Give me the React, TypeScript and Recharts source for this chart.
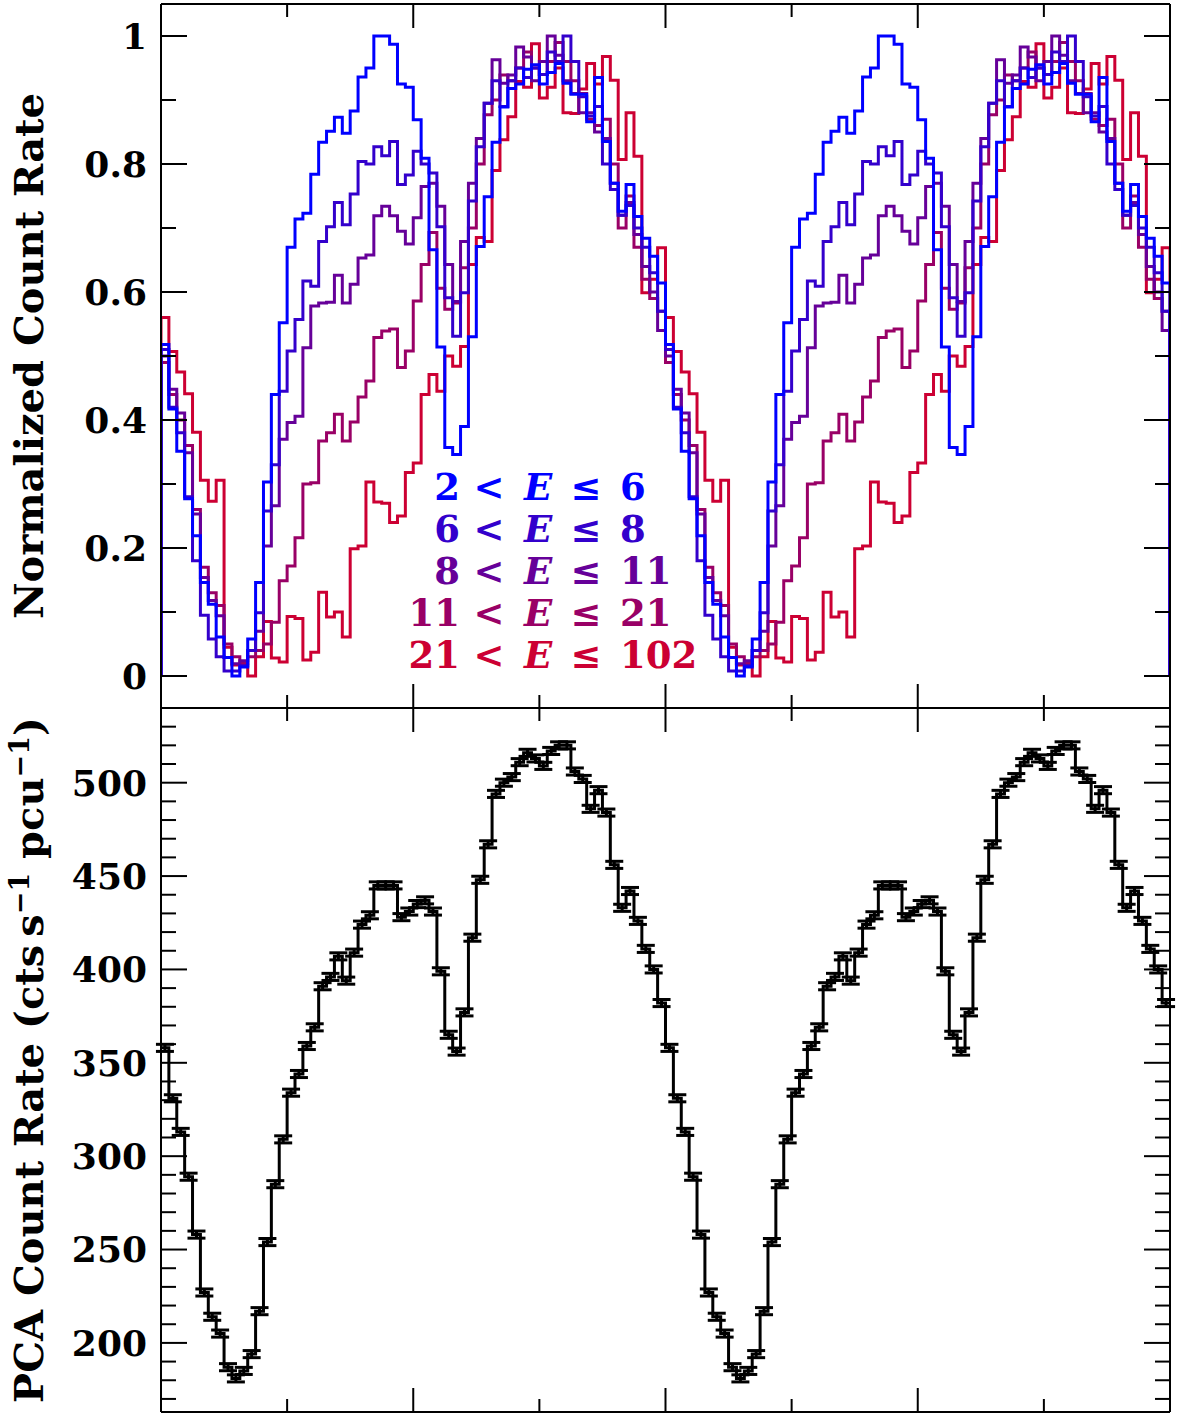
import React from "react";
import { ComposedChart, Line, XAxis, YAxis, ErrorBar } from "recharts";

const SERIF = "'DejaVu Serif', 'Liberation Serif', serif";

// normalized count rate per phase bin (64 bins per cycle), one array per energy band (keV)
const rate2to6 = [
  0.518, 0.417, 0.351, 0.277, 0.219, 0.146, 0.112, 0.061, 0.029, 0.0, 0.014, 0.058, 0.146, 0.303, 0.44, 0.552,
  0.67, 0.714, 0.723, 0.784, 0.834, 0.851, 0.873, 0.848, 0.883, 0.936, 0.95, 1.0, 1.0, 0.987, 0.925, 0.92,
  0.869, 0.809, 0.666, 0.514, 0.357, 0.346, 0.39, 0.53, 0.671, 0.749, 0.834, 0.889, 0.918, 0.925, 0.948, 0.955,
  0.925, 0.943, 0.957, 0.926, 0.909, 0.909, 0.866, 0.935, 0.835, 0.77, 0.726, 0.768, 0.718, 0.684, 0.656, 0.614,
];
const rate6to8 = [
  0.51, 0.42, 0.38, 0.28, 0.18, 0.095, 0.058, 0.03, 0.008, 0.008, 0.016, 0.04, 0.099, 0.258, 0.33, 0.445,
  0.508, 0.557, 0.617, 0.609, 0.679, 0.702, 0.74, 0.705, 0.753, 0.804, 0.8, 0.827, 0.813, 0.835, 0.768, 0.783,
  0.82, 0.8, 0.786, 0.702, 0.591, 0.531, 0.599, 0.742, 0.827, 0.895, 0.93, 0.89, 0.93, 0.95, 0.935, 0.95,
  0.94, 0.975, 0.96, 1.0, 0.96, 0.905, 0.875, 0.89, 0.8, 0.76, 0.72, 0.735, 0.7, 0.67, 0.63, 0.57,
];
const rate8to11 = [
  0.5, 0.448, 0.411, 0.349, 0.253, 0.154, 0.118, 0.094, 0.029, 0.019, 0.024, 0.04, 0.07, 0.203, 0.266, 0.37,
  0.396, 0.406, 0.513, 0.578, 0.583, 0.584, 0.626, 0.583, 0.612, 0.653, 0.658, 0.719, 0.734, 0.719, 0.695, 0.675,
  0.716, 0.765, 0.77, 0.734, 0.643, 0.585, 0.679, 0.77, 0.84, 0.895, 0.963, 0.926, 0.939, 0.983, 0.967, 0.93,
  0.96, 1.0, 0.97, 0.93, 0.91, 0.88, 0.88, 0.85, 0.84, 0.77, 0.72, 0.74, 0.69, 0.64, 0.6, 0.54,
];
const rate11to21 = [
  0.49, 0.44, 0.4, 0.36, 0.26, 0.17, 0.13, 0.11, 0.05, 0.03, 0.02, 0.03, 0.04, 0.05, 0.084, 0.149,
  0.172, 0.216, 0.3, 0.302, 0.367, 0.38, 0.409, 0.367, 0.397, 0.436, 0.461, 0.529, 0.539, 0.542, 0.482, 0.508,
  0.586, 0.643, 0.693, 0.606, 0.573, 0.583, 0.638, 0.7, 0.8, 0.877, 0.9, 0.939, 0.93, 0.95, 0.975, 0.95,
  0.94, 0.96, 0.99, 0.96, 0.93, 0.91, 0.87, 0.86, 0.87, 0.8, 0.7, 0.75, 0.67, 0.62, 0.59, 0.57,
];
const rate21to102 = [
  0.56, 0.507, 0.475, 0.441, 0.381, 0.306, 0.273, 0.306, 0.045, 0.017, 0.017, 0.0, 0.03, 0.085, 0.028, 0.022,
  0.093, 0.09, 0.025, 0.037, 0.131, 0.092, 0.1, 0.061, 0.199, 0.203, 0.303, 0.272, 0.27, 0.24, 0.25, 0.318,
  0.333, 0.44, 0.471, 0.445, 0.5, 0.484, 0.515, 0.643, 0.685, 0.679, 0.79, 0.838, 0.874, 0.929, 0.92, 0.988,
  0.903, 0.92, 0.95, 0.88, 0.879, 0.917, 0.957, 0.925, 0.968, 0.931, 0.807, 0.88, 0.812, 0.599, 0.62, 0.669,
];

// PCA count rate (cts/s/pcu), same binning
const pcaRate = [
  358, 331, 313, 289, 258, 227, 214, 205, 187, 181, 185, 194, 217, 254, 285, 309,
  334, 344, 359, 369, 391, 396, 407, 394, 409, 424, 429, 445, 445, 445, 428, 431,
  435, 437, 431, 399, 365, 356, 377, 417, 448, 467, 494, 500, 503, 511, 516, 513,
  509, 517, 520, 520, 506, 502, 486, 496, 484, 456, 433, 442, 426, 411, 400, 382,
];
const pcaErr = 1.9;

const bandLow = ["2", "6", "8", "11", "21"];
const bandHigh = ["6", "8", "11", "21", "102"];
const bandColors = ["#0000ff", "#3300cc", "#660099", "#990066", "#cc0033"];
const bandRates = [rate2to6, rate6to8, rate8to11, rate11to21, rate21to102];

const phaseTicks = [0, 0.25, 0.5, 0.75, 1, 1.25, 1.5, 1.75, 2];
const normTicks = [0, 0.1, 0.2, 0.3, 0.4, 0.5, 0.6, 0.7, 0.8, 0.9, 1];
const rateTicks = [
  170, 180, 190, 200, 210, 220, 230, 240, 250, 260, 270, 280, 290, 300, 310, 320, 330, 340, 350,
  360, 370, 380, 390, 400, 410, 420, 430, 440, 450, 460, 470, 480, 490, 500, 510, 520, 530,
];

const CYCLES = 2;

// repeat the folded profile over two cycles, points on bin left edges (stepAfter);
// closed histograms rise from zero at phase 0 and fall back to zero at the end
function foldedSteps(values: number[], closed = false) {
  const n = values.length;
  const pts: { phase: number; value: number }[] = [];
  if (closed) pts.push({ phase: 0, value: 0 });
  for (let c = 0; c < CYCLES; c++) values.forEach((v, i) => pts.push({ phase: c + i / n, value: v }));
  pts.push({ phase: CYCLES, value: values[n - 1] });
  if (closed) pts.push({ phase: CYCLES, value: 0 });
  return pts;
}

function foldedCenters(values: number[], err: number) {
  const n = values.length;
  const pts: { phase: number; value: number; err: number }[] = [];
  for (let c = 0; c < CYCLES; c++) values.forEach((v, i) => pts.push({ phase: c + (i + 0.5) / n, value: v, err }));
  return pts;
}

const W = 1177;
const LEFT_W = 161;
const RIGHT_M = 6;
const PLOT_L = LEFT_W;
const PLOT_R = W - RIGHT_M - 1;
const Y_MARGIN = 14;
const Y_MAJOR = 26;
const Y_MINOR = 15;
const X_MAJOR = 24;
const X_MINOR = 13;
const axisStyle = { stroke: "#000", strokeWidth: 2 };

// panel boxes inside each chart's own svg
const TOP_CHART = { height: 709, top: 3, bottom: 0 };
const BOT_CHART = { height: 715, top: 0, bottom: 9 };

const isMultiple = (v: number, step: number) => Math.abs(v / step - Math.round(v / step)) < 1e-6;

function leftTick(majorStep: number, fmt: (v: number) => string) {
  return (props: any) => {
    const { y, payload } = props;
    const v = payload.value;
    const major = isMultiple(v, majorStep);
    return (
      <g>
        <line x1={PLOT_L} y1={y} x2={PLOT_L + (major ? Y_MAJOR : Y_MINOR)} y2={y} stroke="#000" strokeWidth={2} />
        {major && (
          <text x={PLOT_L - Y_MARGIN} y={y} dy="0.36em" textAnchor="end" fontSize={36} fontWeight="bold" fill="#000" fontFamily={SERIF}>
            {fmt(v)}
          </text>
        )}
      </g>
    );
  };
}

function rightTick(majorStep: number) {
  return (props: any) => {
    const { y, payload } = props;
    const len = isMultiple(payload.value, majorStep) ? Y_MAJOR : Y_MINOR;
    return <line x1={PLOT_R} y1={y} x2={PLOT_R - len} y2={y} stroke="#000" strokeWidth={2} />;
  };
}

function xTick(edge: number, dir: 1 | -1) {
  return (props: any) => {
    const { x, payload } = props;
    const len = isMultiple(payload.value, 0.5) ? X_MAJOR : X_MINOR;
    return <line x1={x} y1={edge} x2={x} y2={edge + dir * len} stroke="#000" strokeWidth={2} />;
  };
}

const normLabel = (v: number) => (v === 0 ? "0" : v === 1 ? "1" : v.toFixed(1));

function Frame({ domain, ticks, majorStep, fmt, box }: any) {
  const plotTop = box.top + 1;
  const plotBottom = box.height - box.bottom - 1;
  return [
    <XAxis key="xb" xAxisId="b" type="number" dataKey="phase" domain={[0, 2]} ticks={phaseTicks} interval={0}
      height={1} tickSize={0} tickMargin={0} tickLine={false} axisLine={axisStyle} tick={xTick(plotBottom, -1)} allowDataOverflow />,
    <XAxis key="xt" xAxisId="t" orientation="top" type="number" dataKey="phase" domain={[0, 2]} ticks={phaseTicks}
      interval={0} height={1} tickSize={0} tickMargin={0} tickLine={false} axisLine={axisStyle} tick={xTick(plotTop, 1)} allowDataOverflow />,
    <YAxis key="yl" yAxisId="l" type="number" domain={domain} ticks={ticks} interval={0} width={LEFT_W}
      tickSize={0} tickMargin={Y_MARGIN} tickLine={false} axisLine={axisStyle} tick={leftTick(majorStep, fmt)} allowDataOverflow />,
    <YAxis key="yr" yAxisId="r" orientation="right" type="number" domain={domain} ticks={ticks} interval={0} width={1}
      tickSize={0} tickMargin={0} tickLine={false} axisLine={axisStyle} tick={rightTick(majorStep)} allowDataOverflow />,
  ];
}

const titleStyle: React.CSSProperties = {
  position: "absolute",
  left: 28,
  transform: "translate(-50%, -50%) rotate(-90deg)",
  whiteSpace: "nowrap",
  fontFamily: SERIF,
  fontWeight: "bold",
  fontSize: 40,
  color: "#000",
};

function BandLegend() {
  return (
    <div style={{ position: "absolute", left: 360, top: 466, fontFamily: SERIF, fontWeight: "bold", fontSize: 37 }}>
      {bandLow.map((lo, i) => (
        <div key={lo} style={{ display: "flex", height: 42, lineHeight: "42px", color: bandColors[i] }}>
          <span style={{ width: 100, textAlign: "right" }}>{lo}</span>
          <span style={{ width: 58, textAlign: "center" }}>&lt;</span>
          <span style={{ width: 40, textAlign: "center", fontStyle: "italic" }}>E</span>
          <span style={{ width: 56, textAlign: "center" }}>≤</span>
          <span style={{ paddingLeft: 6 }}>{bandHigh[i]}</span>
        </div>
      ))}
    </div>
  );
}

export default function App() {
  const order = [4, 3, 2, 1, 0];
  return (
    <div style={{ position: "absolute", left: 0, top: 0, width: W, height: 1422, background: "#fff" }}>
      <div style={{ position: "absolute", left: 0, top: 0 }}>
        <ComposedChart width={W} height={TOP_CHART.height}
          margin={{ top: TOP_CHART.top, right: RIGHT_M, bottom: TOP_CHART.bottom, left: 0 }}>
          {Frame({ domain: [-0.05, 1.05], ticks: normTicks, majorStep: 0.2, fmt: normLabel, box: TOP_CHART })}
          {order.map((i) => (
            <Line key={bandLow[i]} xAxisId="b" yAxisId="l" data={foldedSteps(bandRates[i], true)} dataKey="value"
              type="stepAfter" stroke={bandColors[i]} strokeWidth={3} dot={false} activeDot={false}
              isAnimationActive={false} />
          ))}
        </ComposedChart>
      </div>
      <div style={{ position: "absolute", left: 0, top: 707 }}>
        <ComposedChart width={W} height={BOT_CHART.height}
          margin={{ top: BOT_CHART.top, right: RIGHT_M, bottom: BOT_CHART.bottom, left: 0 }}>
          {Frame({ domain: [163, 540], ticks: rateTicks, majorStep: 50, fmt: (v: number) => String(v), box: BOT_CHART })}
          <Line xAxisId="b" yAxisId="l" data={foldedSteps(pcaRate)} dataKey="value" type="stepAfter"
            stroke="#000" strokeWidth={3} dot={false} activeDot={false} isAnimationActive={false} />
          <Line xAxisId="b" yAxisId="l" data={foldedCenters(pcaRate, pcaErr)} dataKey="value" stroke="none"
            dot={false} activeDot={false} isAnimationActive={false}>
            <ErrorBar dataKey="err" direction="y" width={9} stroke="#000" strokeWidth={3} isAnimationActive={false} />
          </Line>
        </ComposedChart>
      </div>
      <div style={{ ...titleStyle, top: 356 }}>Normalized Count Rate</div>
      <div style={{ ...titleStyle, top: 1060 }}>
        PCA Count Rate (cts&thinsp;s<sup style={{ fontSize: 27 }}>−1</sup> pcu<sup style={{ fontSize: 27 }}>−1</sup>)
      </div>
      <BandLegend />
    </div>
  );
}
